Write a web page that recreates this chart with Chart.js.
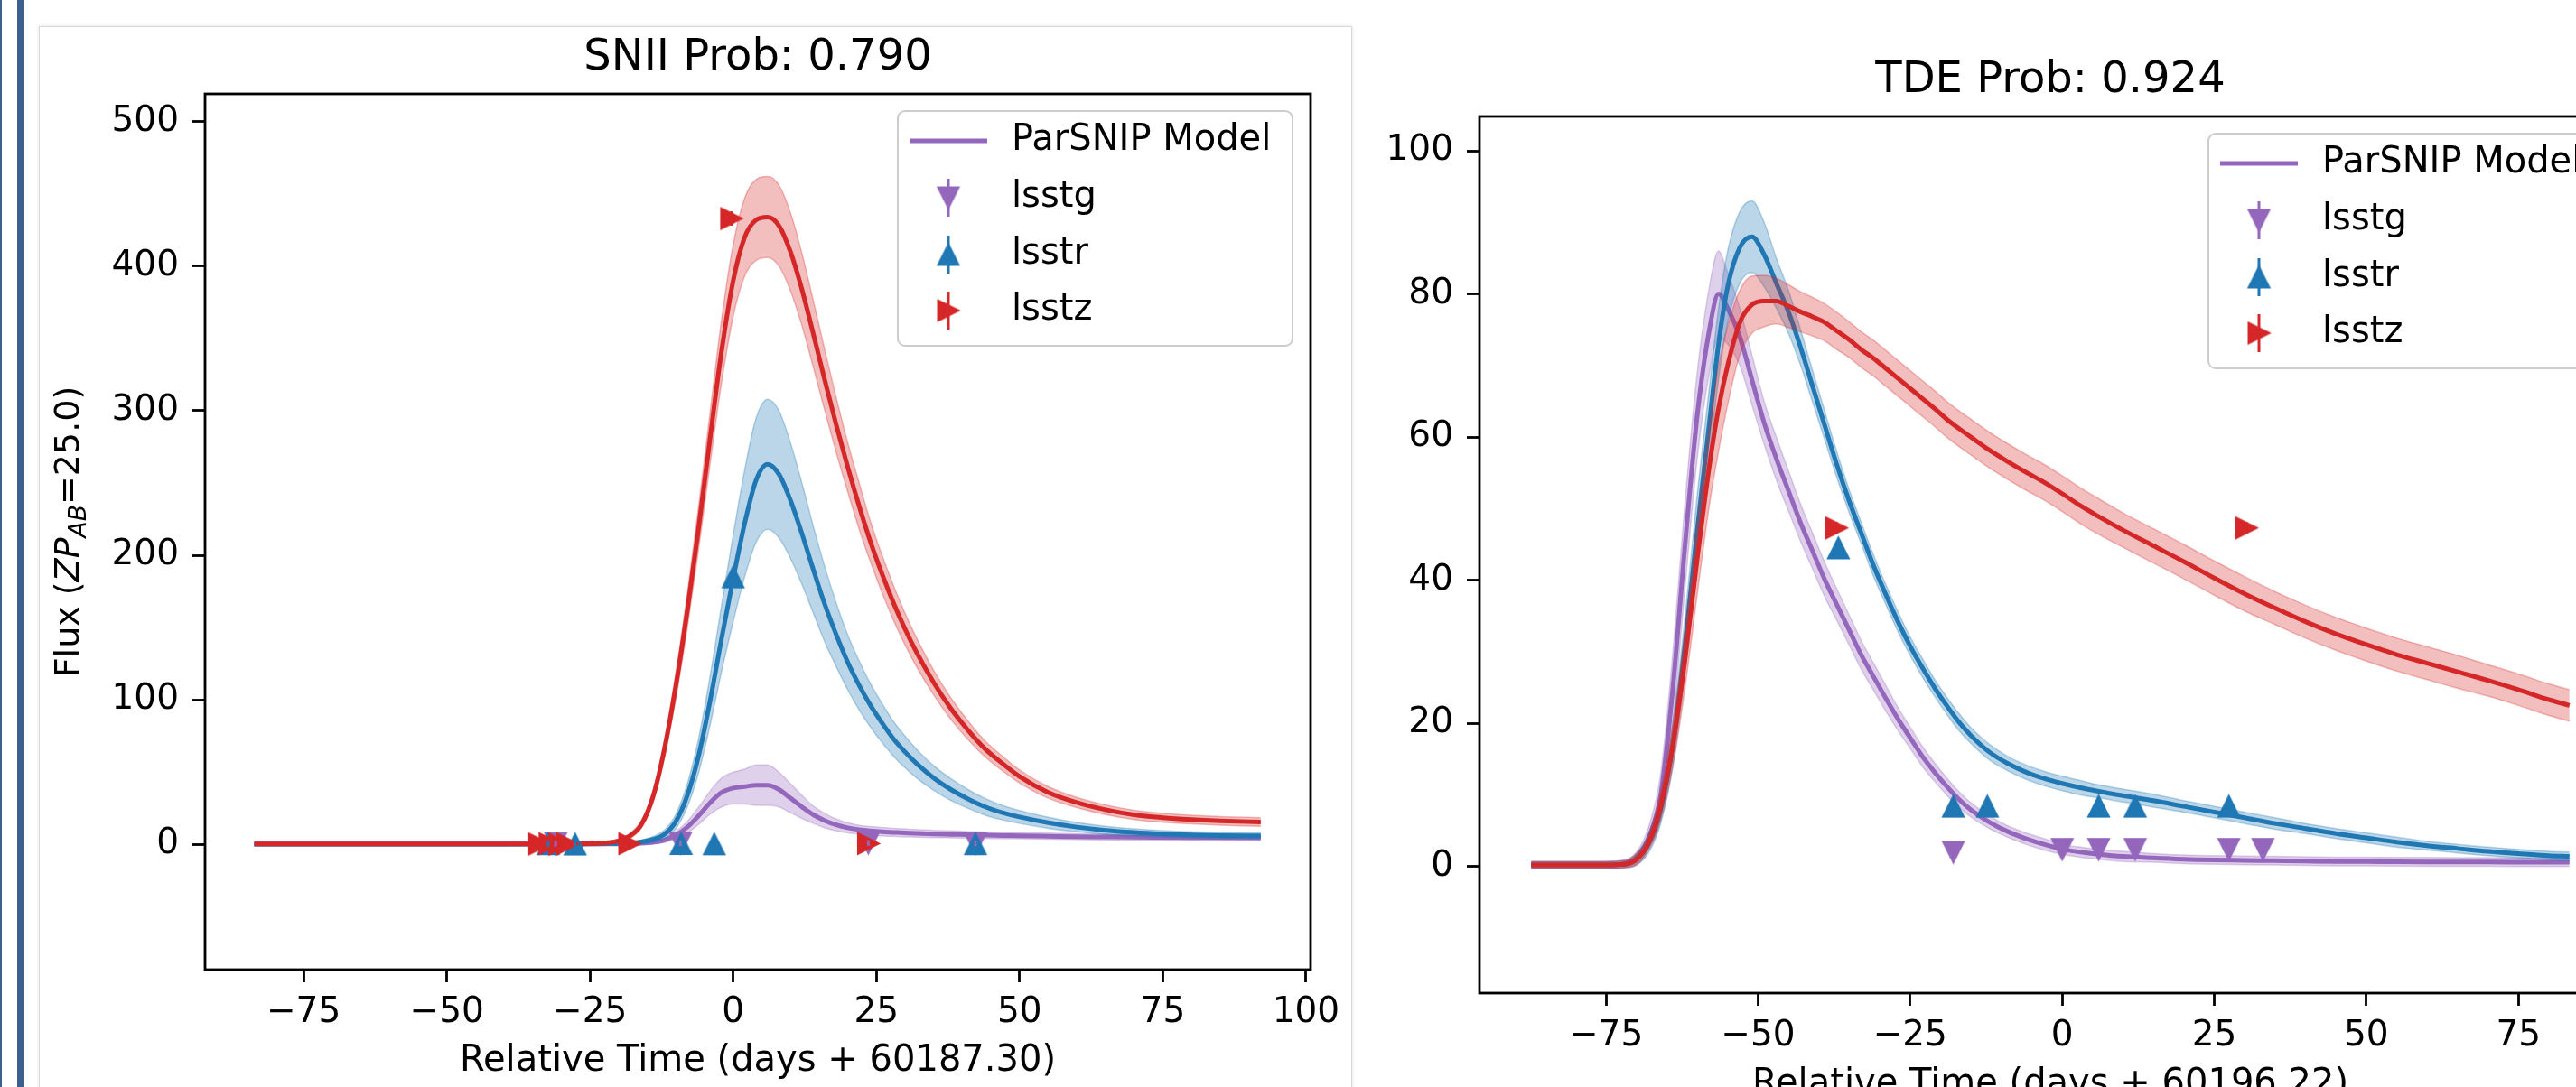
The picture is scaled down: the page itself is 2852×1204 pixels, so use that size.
<!DOCTYPE html>
<html>
<head>
<meta charset="utf-8">
<title>ParSNIP light curves</title>
<script src="https://cdn.jsdelivr.net/npm/chart.js@4.4.1/dist/chart.umd.min.js"></script>
<style>
  html, body { margin: 0; padding: 0; width: 2852px; height: 1204px; overflow: hidden; background: #fff; }
  .bar { position: absolute; top: 0; height: 1204px; background: #3d5f8c; }
  .card { position: absolute; left: 43px; top: 29px; width: 1452px; height: 1200px;
          border: 1px solid #d9d9d9; box-shadow: 0 0 4px rgba(0, 0, 0, 0.12); background: #fff; }
  canvas { position: absolute; }
</style>
</head>
<body>
<div class="bar" style="left:0;width:2px"></div>
<div class="bar" style="left:19px;width:8px"></div>
<div class="card"></div>
<canvas id="snii" width="1460" height="1174" style="left:44px;top:30px"></canvas>
<canvas id="tde" width="1500" height="1174" style="left:1500px;top:30px"></canvas>
<script>
const FONT = 'DejaVu Sans';
const BAND_COLORS = { g: '#9467bd', r: '#1f77b4', z: '#d62728' };
const LEGEND_LABELS = ['ParSNIP Model', 'lsstg', 'lsstr', 'lsstz'];
const Y_LABEL_PARTS = [['Flux (', 'n'], ['ZP', 'i'], ['AB', 's'], ['=25.0)', 'n']];

// ---- SNII panel (left) ----
const sniiTitle = 'SNII Prob: 0.790';
const sniiXLabel = 'Relative Time (days + 60187.30)';
const sniiXTicks = [-75, -50, -25, 0, 25, 50, 75, 100];
const sniiYTicks = [0, 100, 200, 300, 400, 500];
const sniiTime = [-83.6, -60, -40, -30, -25, -22, -20, -18, -16, -14, -12, -10, -8, -6, -4, -2, 0, 2, 4, 6,
  8, 10, 12, 14, 16, 18, 20, 22, 24, 26, 28, 30, 32, 35, 38, 41, 44, 47, 50, 55, 60, 65, 70, 75, 80, 85, 92.1];
const sniiModelG = [0.2, 0.2, 0.2, 0.2, 0.3, 0.3, 0.4, 0.5, 0.8, 1.5, 3, 6.5, 12, 20, 29, 36, 39, 40, 41, 41,
  38, 32, 26, 20.5, 16.5, 13.5, 11.5, 10.2, 9.4, 8.8, 8.4, 8, 7.7, 7.3, 7, 6.7, 6.4, 6.2, 6, 5.7, 5.4, 5.2, 5, 4.9, 4.8, 4.7, 4.6];
const sniiModelGErr = [0.8, 0.8, 0.8, 0.8, 0.8, 0.8, 0.8, 0.8, 0.8, 1, 1.5, 2.5, 4, 6, 8, 10, 11, 12, 14, 14,
  12, 10, 8, 6, 5, 4, 3.5, 3, 3, 3, 2.8, 2.8, 2.6, 2.5, 2.4, 2.3, 2.2, 2.2, 2.1, 2.1, 2, 2, 2, 2, 2, 2, 2];
const sniiModelR = [0.2, 0.2, 0.2, 0.3, 0.4, 0.5, 0.7, 1, 1.8, 3.5, 7, 16, 34, 62, 100, 143, 184, 222, 252, 263,
  256, 238, 215, 190, 166, 145, 126, 110, 96, 84, 73, 64, 56, 46, 38, 31.5, 26, 22, 19, 15, 12, 9.8, 8.3, 7.3, 6.6, 6.2, 6];
const sniiModelRErr = [0.8, 0.8, 0.8, 0.8, 0.8, 0.8, 0.8, 1, 1.3, 2, 3, 5, 8, 12, 17, 23, 30, 37, 43, 45,
  44, 40, 35, 30, 26, 22, 19, 17, 15, 13.5, 12, 11, 10, 8.5, 7.5, 6.5, 5.8, 5, 4.5, 3.8, 3.2, 2.8, 2.5, 2.3, 2.2, 2.1, 2];
const sniiModelZ = [0.3, 0.3, 0.3, 0.4, 0.6, 1.2, 2.5, 6, 14, 33, 66, 110, 162, 220, 282, 342, 390, 420, 432, 434,
  428, 410, 384, 353, 321, 290, 261, 234, 209, 187, 167, 149, 133, 112, 94, 79, 66, 56, 47, 36, 29, 24, 20.5, 18.5, 17.2, 16.3, 15.5];
const sniiModelZErr = [0.8, 0.8, 0.8, 0.8, 0.9, 1, 1.3, 1.8, 2.5, 4, 6, 9, 12, 15, 18, 22, 25, 27, 28, 28,
  28, 27, 25, 23, 21, 19, 17, 16, 14, 13, 12, 11, 10, 8.5, 7.5, 6.5, 5.5, 5, 4.5, 4, 3.5, 3.3, 3.2, 3.1, 3, 3, 3];
const sniiObsGTime = [-31.0, -9.2, 23.6, 42.3];
const sniiObsGFlux = [0.5, 0.8, 1.0, 0.6];
const sniiObsGErr = [2, 2, 2, 2];
const sniiObsRTime = [-32.3, -27.6, -9.1, -3.3, 0.0, 42.3];
const sniiObsRFlux = [0.4, 0.2, 0.5, 0.3, 185, 0.4];
const sniiObsRErr = [2, 2, 2, 2, 4, 2];
const sniiObsZTime = [-33.8, -32.0, -30.3, -28.9, -18.1, -0.3, 23.6];
const sniiObsZFlux = [0.3, 0.5, 0.2, 0.4, 0.5, 433, 0.6];
const sniiObsZErr = [2, 2, 2, 2, 2, 5, 2];

// ---- TDE panel (right) ----
const tdeTitle = 'TDE Prob: 0.924';
const tdeXLabel = 'Relative Time (days + 60196.22)';
const tdeXTicks = [-75, -50, -25, 0, 25, 50, 75];
const tdeYTicks = [0, 20, 40, 60, 80, 100];
const tdeTime = [-87.3, -80, -75, -72, -70, -68, -66, -64, -62, -60, -58, -56.5, -55, -53, -51, -49, -47, -45, -43, -41,
  -39, -37, -35, -33, -31, -29, -27, -25, -23, -21, -19, -17, -15, -12, -9, -6, -3, 0, 3, 6,
  10, 15, 20, 25, 30, 35, 40, 45, 50, 55, 60, 65, 70, 75, 80, 83.4];
const tdeModelG = [0.2, 0.2, 0.2, 0.4, 1.2, 4, 10, 25, 45, 63, 75, 80, 78, 74, 68, 62, 57, 52.5, 48, 44,
  40, 36.5, 33, 29.5, 26.5, 23.5, 20.6, 18, 15.4, 13.2, 11.2, 9.4, 7.9, 6.2, 4.9, 3.9, 3.1, 2.4, 2, 1.7,
  1.4, 1.2, 1, 0.9, 0.85, 0.8, 0.75, 0.7, 0.68, 0.66, 0.64, 0.62, 0.61, 0.6, 0.6, 0.6];
const tdeModelGErr = [0.5, 0.5, 0.5, 0.5, 0.8, 1.5, 3, 5, 6, 6, 6, 6, 5, 4, 3.5, 3, 3, 2.8, 2.6, 2.5,
  2.4, 2.2, 2.1, 2, 1.9, 1.8, 1.6, 1.5, 1.4, 1.3, 1.2, 1.1, 1, 0.9, 0.8, 0.8, 0.8, 0.7, 0.7, 0.7,
  0.7, 0.6, 0.6, 0.6, 0.6, 0.6, 0.6, 0.6, 0.6, 0.6, 0.6, 0.6, 0.6, 0.6, 0.6, 0.6];
const tdeModelR = [0.2, 0.2, 0.2, 0.3, 1, 3.2, 8, 17, 31, 47, 62, 73, 81, 86.5, 88, 85.5, 81.5, 77.5, 72.5, 67,
  61.5, 56, 51, 46.5, 42, 38, 34.2, 30.8, 27.8, 25, 22.5, 20.2, 18.3, 16, 14.4, 13.2, 12.3, 11.6, 11, 10.5,
  9.9, 9.2, 8.4, 7.6, 6.8, 6, 5.3, 4.6, 4, 3.4, 2.9, 2.5, 2.1, 1.8, 1.5, 1.4];
const tdeModelRErr = [0.5, 0.5, 0.5, 0.5, 0.8, 1.3, 2, 3, 4, 5, 5, 5, 5, 5, 5, 4.5, 3.5, 3, 2.5, 2.2,
  2, 1.8, 1.6, 1.5, 1.5, 1.4, 1.4, 1.3, 1.3, 1.2, 1.2, 1.2, 1.1, 1.1, 1, 1, 1, 1, 1, 0.9,
  0.9, 0.9, 0.8, 0.8, 0.8, 0.8, 0.7, 0.7, 0.7, 0.7, 0.6, 0.6, 0.6, 0.6, 0.6, 0.6];
const tdeModelZ = [0.2, 0.2, 0.2, 0.3, 1, 3.3, 8.5, 17, 29, 43, 56, 64, 70, 76, 78.5, 79, 79, 78.3, 77.5, 76.8,
  76, 74.8, 73.6, 72.2, 71, 69.6, 68.2, 66.8, 65.4, 64, 62.5, 61.2, 60, 58.2, 56.6, 55.1, 53.7, 52.1, 50.4, 48.9,
  47, 44.8, 42.6, 40.3, 38.1, 36.1, 34.2, 32.5, 31, 29.6, 28.4, 27.2, 26, 24.7, 23.3, 22.5];
const tdeModelZErr = [0.5, 0.5, 0.5, 0.5, 0.8, 1, 2, 3, 4, 5, 5.5, 6, 5.5, 4.5, 4, 3.6, 3.2, 3, 2.8, 2.7,
  2.6, 2.6, 2.5, 2.5, 2.5, 2.5, 2.5, 2.5, 2.5, 2.5, 2.5, 2.5, 2.5, 2.5, 2.5, 2.5, 2.5, 2.5, 2.5, 2.5,
  2.4, 2.4, 2.4, 2.4, 2.4, 2.3, 2.3, 2.3, 2.3, 2.3, 2.3, 2.3, 2.2, 2.2, 2.2, 2.2];
const tdeObsGTime = [-17.9, 0.0, 6.0, 12.0, 27.4, 33.0];
const tdeObsGFlux = [2.0, 2.4, 2.4, 2.4, 2.4, 2.4];
const tdeObsGErr = [0.6, 0.6, 0.6, 0.6, 0.6, 0.6];
const tdeObsRTime = [-36.8, -17.9, -12.3, 6.0, 12.0, 27.4];
const tdeObsRFlux = [44.5, 8.4, 8.4, 8.4, 8.4, 8.4];
const tdeObsRErr = [0.8, 0.6, 0.6, 0.6, 0.6, 0.6];
const tdeObsZTime = [-37.1, 30.3];
const tdeObsZFlux = [47.3, 47.3];
const tdeObsZErr = [0.8, 0.8];

// matplotlib-like triangle markers (equal width and height, centred on the point)
function triangle(color, dir) {
  const s = 23, pad = 3;
  const c = document.createElement('canvas');
  c.width = c.height = s + pad * 2;
  const ctx = c.getContext('2d');
  const h = s / 2, m = c.width / 2;
  ctx.beginPath();
  if (dir === 'up') { ctx.moveTo(m, m - h); ctx.lineTo(m + h, m + h); ctx.lineTo(m - h, m + h); }
  if (dir === 'down') { ctx.moveTo(m, m + h); ctx.lineTo(m + h, m - h); ctx.lineTo(m - h, m - h); }
  if (dir === 'right') { ctx.moveTo(m + h, m); ctx.lineTo(m - h, m - h); ctx.lineTo(m - h, m + h); }
  ctx.closePath();
  ctx.fillStyle = color;
  ctx.fill();
  ctx.lineWidth = 2;
  ctx.strokeStyle = color;
  ctx.stroke();
  return c;
}

const markers = {
  g: triangle(BAND_COLORS.g, 'down'),
  r: triangle(BAND_COLORS.r, 'up'),
  z: triangle(BAND_COLORS.z, 'right'),
};

function rgba(hex, a) {
  const n = parseInt(hex.slice(1), 16);
  return `rgba(${n >> 16}, ${(n >> 8) & 255}, ${n & 255}, ${a})`;
}

const fmtTick = (v) => (v < 0 ? '\u2212' + Math.abs(v) : String(v));

// upper / lower band edges followed by the model line
function modelDatasets(time, mean, err, color, order) {
  const pts = (sign) => time.map((t, i) => ({ x: t, y: mean[i] + sign * err[i] }));
  const common = { type: 'line', pointRadius: 0, cubicInterpolationMode: 'monotone' };
  return [
    { ...common, data: pts(1), borderColor: rgba(color, 0.3), borderWidth: 1.5,
      backgroundColor: rgba(color, 0.3), fill: '+1', order },
    { ...common, data: pts(-1), borderColor: rgba(color, 0.3), borderWidth: 1.5, fill: false, order },
    { ...common, data: pts(0), borderColor: color, borderWidth: 5, fill: false, order: order - 1 },
  ];
}

function obsDataset(time, flux, err, band, order) {
  return {
    type: 'scatter',
    data: time.map((t, i) => ({ x: t, y: flux[i] })),
    errs: err,
    pointStyle: markers[band],
    pointRadius: 12,
    pointHoverRadius: 12,
    borderColor: BAND_COLORS[band],
    showLine: false,
    order,
  };
}

function drawYLabel(ctx, parts, baseX, cy) {
  const size = 38;
  const fontOf = (k) => (k === 'n' ? `${size}px ${FONT}` : k === 'i' ? `italic ${size}px ${FONT}` : `italic ${size * 0.7}px ${FONT}`);
  let total = 0;
  const widths = parts.map(([t, k]) => {
    ctx.font = fontOf(k);
    const w = ctx.measureText(t).width;
    total += w;
    return w;
  });
  ctx.save();
  ctx.translate(baseX, cy);
  ctx.rotate(-Math.PI / 2);
  ctx.textAlign = 'left';
  ctx.textBaseline = 'alphabetic';
  let px = -total / 2;
  parts.forEach(([t, k], i) => {
    ctx.font = fontOf(k);
    ctx.fillText(t, px, k === 's' ? size * 0.2 : 0);
    px += widths[i];
  });
  ctx.restore();
}

function drawLegend(ctx, a) {
  const w = 437, h = 260;
  const x0 = a.right - 20 - w, y0 = a.top + 19;
  const rows = [33, 96, 159, 221];
  const hx = x0 + 56;

  ctx.beginPath();
  if (ctx.roundRect) ctx.roundRect(x0, y0, w, h, 8); else ctx.rect(x0, y0, w, h);
  ctx.fillStyle = 'rgba(255, 255, 255, 0.8)';
  ctx.fill();
  ctx.strokeStyle = '#cccccc';
  ctx.lineWidth = 2;
  ctx.stroke();

  ctx.strokeStyle = BAND_COLORS.g;
  ctx.lineWidth = 5;
  ctx.beginPath();
  ctx.moveTo(x0 + 13, y0 + rows[0]);
  ctx.lineTo(x0 + 99, y0 + rows[0]);
  ctx.stroke();

  ['g', 'r', 'z'].forEach((b, i) => {
    const cy = y0 + rows[i + 1];
    ctx.strokeStyle = BAND_COLORS[b];
    ctx.lineWidth = 3;
    ctx.beginPath();
    ctx.moveTo(hx, cy - 21);
    ctx.lineTo(hx, cy + 21);
    ctx.stroke();
    const m = markers[b];
    ctx.drawImage(m, hx - m.width / 2, cy - m.height / 2);
  });

  ctx.fillStyle = '#000';
  ctx.font = `40px ${FONT}`;
  ctx.textAlign = 'left';
  ctx.textBaseline = 'middle';
  LEGEND_LABELS.forEach((t, i) => ctx.fillText(t, x0 + 126, y0 + rows[i]));
}

// error bars, axes frame, titles and legend
const decorations = {
  id: 'decorations',
  afterDatasetsDraw(chart) {
    const { ctx, chartArea: a, scales: { x, y } } = chart;
    ctx.save();
    chart.data.datasets.forEach((ds) => {
      if (!ds.errs) return;
      ctx.strokeStyle = ds.borderColor;
      ctx.lineWidth = 3;
      ds.data.forEach((p, i) => {
        const px = x.getPixelForValue(p.x);
        ctx.beginPath();
        ctx.moveTo(px, y.getPixelForValue(p.y - ds.errs[i]));
        ctx.lineTo(px, y.getPixelForValue(p.y + ds.errs[i]));
        ctx.stroke();
      });
    });
    ctx.strokeStyle = '#000';
    ctx.lineWidth = 2.8;
    ctx.strokeRect(a.left, a.top, a.right - a.left, a.bottom - a.top);
    ctx.restore();
  },
  afterDraw(chart, args, opts) {
    const { ctx, chartArea: a } = chart;
    const cx = (a.left + a.right) / 2;
    ctx.save();
    ctx.fillStyle = '#000';
    ctx.textAlign = 'center';
    ctx.font = `48px ${FONT}`;
    ctx.textBaseline = 'alphabetic';
    ctx.fillText(opts.title, cx, a.top - 27);
    ctx.font = `40px ${FONT}`;
    ctx.textBaseline = 'middle';
    ctx.fillText(opts.xLabel, cx, a.bottom + 102);
    if (opts.yLabel) drawYLabel(ctx, Y_LABEL_PARTS, a.left - 140, (a.top + a.bottom) / 2);
    drawLegend(ctx, a);
    ctx.restore();
  },
};

function makeChart(id, cfg) {
  const datasets = [
    obsDataset(cfg.obs.z[0], cfg.obs.z[1], cfg.obs.z[2], 'z', 1),
    obsDataset(cfg.obs.r[0], cfg.obs.r[1], cfg.obs.r[2], 'r', 2),
    obsDataset(cfg.obs.g[0], cfg.obs.g[1], cfg.obs.g[2], 'g', 3),
    ...modelDatasets(cfg.time, cfg.model.z[0], cfg.model.z[1], BAND_COLORS.z, 5),
    ...modelDatasets(cfg.time, cfg.model.r[0], cfg.model.r[1], BAND_COLORS.r, 7),
    ...modelDatasets(cfg.time, cfg.model.g[0], cfg.model.g[1], BAND_COLORS.g, 9),
  ];
  const tickFont = { family: FONT, size: 39 };
  const grid = { drawOnChartArea: false, drawTicks: true, tickLength: 14, tickWidth: 2.8, tickColor: '#000' };

  return new Chart(document.getElementById(id), {
    type: 'scatter',
    data: { datasets },
    options: {
      responsive: false,
      animation: false,
      events: [],
      layout: { padding: cfg.padding },
      plugins: {
        legend: { display: false },
        title: { display: false },
        tooltip: { enabled: false },
        decorations: { title: cfg.title, xLabel: cfg.xLabel, yLabel: cfg.yLabel },
      },
      scales: {
        x: {
          type: 'linear',
          bounds: 'data',
          min: cfg.xRange[0],
          max: cfg.xRange[1],
          afterBuildTicks: (s) => { s.ticks = cfg.xTicks.map((v) => ({ value: v })); },
          afterFit: (s) => { s.height = cfg.xAxisH; },
          grid,
          border: { display: false },
          ticks: { color: '#000', font: tickFont, padding: 10, maxRotation: 0, autoSkip: false, callback: fmtTick },
        },
        y: {
          type: 'linear',
          bounds: 'data',
          min: cfg.yRange[0],
          max: cfg.yRange[1],
          afterBuildTicks: (s) => { s.ticks = cfg.yTicks.map((v) => ({ value: v })); },
          afterFit: (s) => { s.width = cfg.yAxisW; },
          grid,
          border: { display: false },
          ticks: { color: '#000', font: tickFont, padding: 15, autoSkip: false, callback: fmtTick },
        },
      },
    },
    plugins: [decorations],
  });
}

makeChart('snii', {
  title: sniiTitle,
  xLabel: sniiXLabel,
  yLabel: true,
  xTicks: sniiXTicks,
  yTicks: sniiYTicks,
  xRange: [-92.2, 100.8],
  yRange: [-86.6, 519.2],
  padding: { left: 0, top: 74, right: 53, bottom: 0 },
  yAxisW: 183,
  xAxisH: 130,
  time: sniiTime,
  model: {
    g: [sniiModelG, sniiModelGErr],
    r: [sniiModelR, sniiModelRErr],
    z: [sniiModelZ, sniiModelZErr],
  },
  obs: {
    g: [sniiObsGTime, sniiObsGFlux, sniiObsGErr],
    r: [sniiObsRTime, sniiObsRFlux, sniiObsRErr],
    z: [sniiObsZTime, sniiObsZFlux, sniiObsZErr],
  },
});

makeChart('tde', {
  title: tdeTitle,
  xLabel: tdeXLabel,
  yLabel: false,
  xTicks: tdeXTicks,
  yTicks: tdeYTicks,
  xRange: [-95.8, 91.9],
  yRange: [-17.7, 104.8],
  padding: { left: 0, top: 99, right: 98, bottom: 0 },
  yAxisW: 138,
  xAxisH: 104,
  time: tdeTime,
  model: {
    g: [tdeModelG, tdeModelGErr],
    r: [tdeModelR, tdeModelRErr],
    z: [tdeModelZ, tdeModelZErr],
  },
  obs: {
    g: [tdeObsGTime, tdeObsGFlux, tdeObsGErr],
    r: [tdeObsRTime, tdeObsRFlux, tdeObsRErr],
    z: [tdeObsZTime, tdeObsZFlux, tdeObsZErr],
  },
});
</script>
</body>
</html>
